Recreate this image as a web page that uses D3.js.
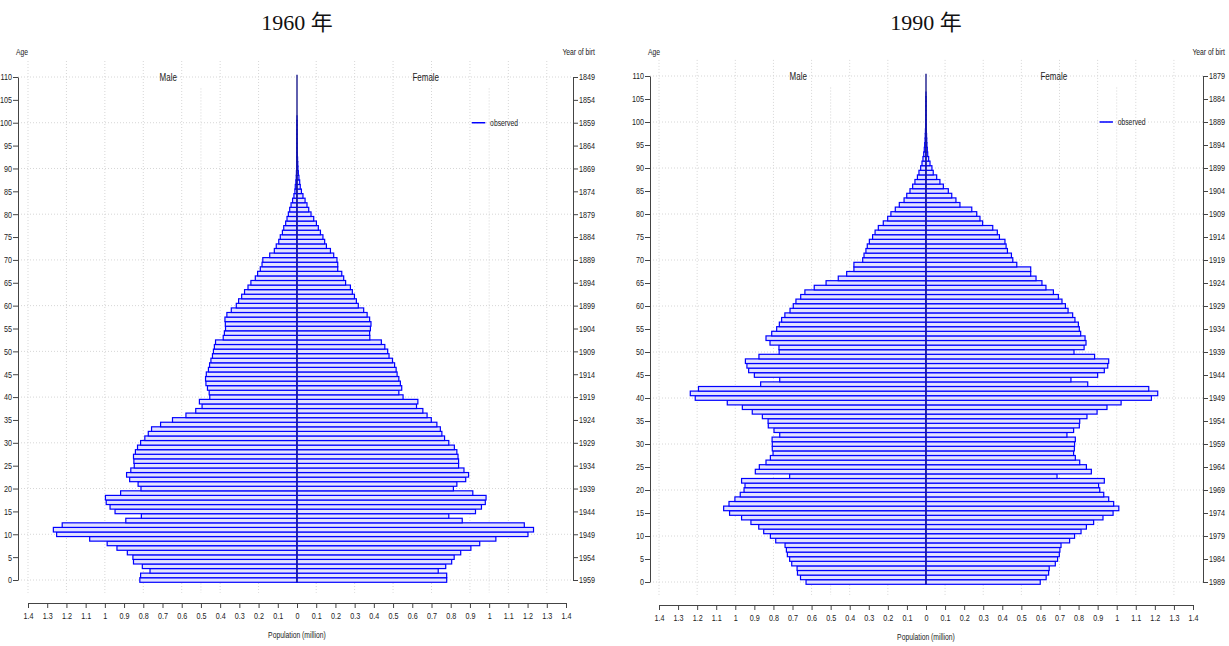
<!DOCTYPE html>
<html>
<head>
<meta charset="utf-8">
<script src="https://cdn.jsdelivr.net/npm/d3@7"></script>
<style>
  body { margin: 0; background: #fff; }
  svg { display: block; }
  .tick text, .lbl { font-family: "Liberation Sans", "Noto Sans", sans-serif; font-size: 9px; fill: #222; }
  .title { font-family: "Liberation Serif", "Noto Sans CJK SC", serif; font-size: 22px; fill: #111; }
</style>
</head>
<body>
<script>
// data, population in million by single year of age (0..110)
var ages = d3.range(0, 111);
var ageTicks = d3.range(0, 111, 5);
var popTicks = [0, 0.1, 0.2, 0.3, 0.4, 0.5, 0.6, 0.7, 0.8, 0.9, 1, 1.1, 1.2, 1.3, 1.4];

var male1960 = [
  0.818,0.814,0.765,0.805,0.851,0.854,0.883,0.937,0.988,1.079,
  1.251,1.268,1.222,0.891,0.810,0.947,0.973,0.993,0.997,0.918,
  0.812,0.827,0.871,0.887,0.865,0.847,0.849,0.851,0.841,0.830,
  0.814,0.792,0.774,0.757,0.710,0.648,0.578,0.527,0.494,0.508,
  0.454,0.457,0.466,0.474,0.476,0.472,0.461,0.455,0.448,0.440,
  0.435,0.430,0.424,0.384,0.378,0.372,0.373,0.375,0.365,0.342,
  0.316,0.304,0.288,0.273,0.255,0.240,0.217,0.205,0.191,0.182,
  0.178,0.142,0.118,0.108,0.095,0.087,0.076,0.069,0.059,0.052,
  0.045,0.038,0.031,0.023,0.016,0.011,0.009,0.006,0.004,0.003,
  0.002,0.0015,0.001,0.0008,0.0006,0.0004,0.0003,0.0002,0.0002,0.0001,
  0.0001,0,0,0,0,0,0,0,0,0,0];
var female1960 = [
  0.779,0.779,0.735,0.774,0.805,0.818,0.852,0.905,0.951,1.035,
  1.202,1.231,1.183,0.860,0.790,0.929,0.960,0.980,0.984,0.915,
  0.814,0.832,0.878,0.893,0.869,0.841,0.841,0.838,0.832,0.819,
  0.790,0.768,0.754,0.746,0.728,0.699,0.677,0.655,0.622,0.629,
  0.552,0.530,0.545,0.538,0.530,0.521,0.516,0.508,0.497,0.479,
  0.472,0.457,0.439,0.379,0.378,0.382,0.385,0.378,0.365,0.347,
  0.319,0.309,0.299,0.288,0.278,0.253,0.243,0.233,0.212,0.212,
  0.208,0.191,0.174,0.153,0.144,0.135,0.122,0.111,0.101,0.087,
  0.073,0.061,0.052,0.042,0.031,0.023,0.017,0.014,0.010,0.007,
  0.005,0.004,0.003,0.002,0.0015,0.001,0.0008,0.0006,0.0004,0.0003,
  0.0002,0.0001,0,0,0,0,0,0,0,0,0];
var male1990 = [
  0.629,0.658,0.674,0.676,0.704,0.715,0.727,0.732,0.739,0.788,
  0.816,0.851,0.877,0.918,0.967,1.030,1.061,1.033,1.002,0.974,
  0.954,0.949,0.967,0.715,0.895,0.874,0.839,0.816,0.802,0.806,
  0.806,0.807,0.767,0.797,0.827,0.828,0.858,0.911,0.963,1.042,
  1.210,1.236,1.193,0.867,0.767,0.900,0.930,0.939,0.947,0.876,
  0.770,0.771,0.818,0.839,0.809,0.783,0.769,0.757,0.740,0.713,
  0.696,0.682,0.657,0.635,0.586,0.524,0.460,0.416,0.378,0.378,
  0.332,0.325,0.315,0.308,0.297,0.280,0.267,0.250,0.224,0.201,
  0.184,0.161,0.140,0.115,0.101,0.084,0.070,0.058,0.045,0.037,
  0.028,0.021,0.016,0.012,0.009,0.007,0.005,0.004,0.003,0.002,
  0.0015,0.001,0.0007,0.0005,0.0003,0.0002,0.0001,0,0,0,0];
var female1990 = [
  0.599,0.630,0.643,0.646,0.678,0.690,0.699,0.702,0.708,0.753,
  0.779,0.813,0.841,0.879,0.928,0.981,1.011,0.984,0.958,0.932,
  0.911,0.905,0.935,0.687,0.867,0.841,0.806,0.783,0.774,0.778,
  0.779,0.783,0.739,0.774,0.804,0.806,0.844,0.897,0.949,1.023,
  1.182,1.215,1.168,0.848,0.760,0.900,0.935,0.953,0.958,0.884,
  0.776,0.829,0.839,0.834,0.811,0.804,0.799,0.781,0.769,0.745,
  0.731,0.713,0.694,0.668,0.629,0.608,0.577,0.549,0.549,0.476,
  0.455,0.448,0.427,0.420,0.414,0.385,0.374,0.350,0.297,0.283,
  0.266,0.240,0.178,0.157,0.135,0.117,0.091,0.073,0.056,0.038,
  0.031,0.021,0.014,0.009,0.007,0.005,0.004,0.003,0.002,0.0015,
  0.001,0.0007,0.0005,0.0003,0.0002,0.0001,0,0,0,0,0];

var panels = [
  {title: "1960 年", year: 1960, male: male1960, female: female1960,
   x0: 297, half: 269, left: 18, right: 573, top: 77, bottom: 580, axisY: 603},
  {title: "1990 年", year: 1990, male: male1990, female: female1990,
   x0: 926, half: 267, left: 650, right: 1203, top: 76, bottom: 582, axisY: 605}
];

var NARROW = 0.8; // squeeze texts, the original uses a condensed face

var svg = d3.select("body").append("svg")
  .attr("width", 1229)
  .attr("height", 646);

function label(g, x, y, txt, anchor, size) {
  return g.append("text").attr("class", "lbl")
    .attr("transform", "translate(" + x + "," + y + ") scale(" + NARROW + ",1)")
    .attr("text-anchor", anchor || "start")
    .style("font-size", (size || 9) + "px")
    .text(txt);
}

panels.forEach(function(p) {
  var g = svg.append("g");
  var xm = d3.scaleLinear().domain([0, 1.4]).range([p.x0, p.x0 - p.half]);
  var xf = d3.scaleLinear().domain([0, 1.4]).range([p.x0, p.x0 + p.half]);
  var y = d3.scaleLinear().domain([0, 110]).range([p.bottom, p.top]);
  var step = y(0) - y(1);

  // grid
  var grid = g.append("g").attr("stroke", "#d6d6d6").attr("stroke-dasharray", "1,2");
  [0.2, 0.4, 0.6, 0.8, 1.0, 1.2, 1.4].forEach(function(v) {
    grid.append("line").attr("x1", xm(v)).attr("x2", xm(v)).attr("y1", y(113.5)).attr("y2", y(-2.8));
  });
  [0.1, 0.3, 0.5, 0.7, 0.9, 1.1, 1.3].forEach(function(v) {
    grid.append("line").attr("x1", xf(v)).attr("x2", xf(v)).attr("y1", y(113.5)).attr("y2", y(-2.8));
  });
  // shorter ones
  grid.append("line").attr("x1", xm(0.5)).attr("x2", xm(0.5)).attr("y1", y(107.5)).attr("y2", y(-2.8));
  grid.append("line").attr("x1", xf(1.0)).attr("x2", xf(1.0)).attr("y1", y(107.5)).attr("y2", y(-2.8));
  d3.range(0, 111, 10).forEach(function(a) {
    grid.append("line").attr("x1", p.left).attr("x2", p.right).attr("y1", y(a)).attr("y2", y(a));
  });

  // bars
  var bars = g.append("g").attr("stroke", "#0000ff").attr("stroke-width", 1.2).attr("fill", "#e2e2ff");
  bars.selectAll("rect.m").data(ages).join("rect").attr("class", "m")
    .attr("x", function(a) { return xm(p.male[a]); })
    .attr("width", function(a) { return xm(0) - xm(p.male[a]); })
    .attr("y", function(a) { return y(a) - step / 2; })
    .attr("height", step);
  bars.selectAll("rect.f").data(ages).join("rect").attr("class", "f")
    .attr("x", xf(0))
    .attr("width", function(a) { return xf(p.female[a]) - xf(0); })
    .attr("y", function(a) { return y(a) - step / 2; })
    .attr("height", step);
  g.append("line").attr("x1", p.x0).attr("x2", p.x0)
    .attr("y1", y(110.5)).attr("y2", y(-0.5))
    .attr("stroke", "#1c1c8c").attr("stroke-width", 1.4);

  // axes
  var axL = g.append("g").attr("transform", "translate(" + p.left + ",0)")
    .call(d3.axisLeft(y).tickValues(ageTicks).tickSize(5).tickSizeOuter(0).tickPadding(1));
  var axR = g.append("g").attr("transform", "translate(" + p.right + ",0)")
    .call(d3.axisRight(y).tickValues(ageTicks).tickSize(5).tickSizeOuter(0).tickPadding(1)
      .tickFormat(function(a) { return (p.year - 1) - a; }));
  var axM = g.append("g").attr("transform", "translate(0," + p.axisY + ")")
    .call(d3.axisBottom(xm).tickValues(popTicks).tickSize(5).tickSizeOuter(0).tickPadding(5)
      .tickFormat(d3.format("~g")));
  var axF = g.append("g").attr("transform", "translate(0," + p.axisY + ")")
    .call(d3.axisBottom(xf).tickValues(popTicks.slice(1)).tickSize(5).tickSizeOuter(0).tickPadding(5)
      .tickFormat(d3.format("~g")));
  [axL, axR, axM, axF].forEach(function(a) {
    a.selectAll("path, line").attr("stroke", "#444");
    a.attr("font-family", null).attr("font-size", null);
    a.selectAll(".tick text").attr("transform", "scale(" + NARROW + ",1)");
  });
  // keep the side labels at their spot after squeezing
  axL.selectAll(".tick text").attr("x", -6 / NARROW);
  axR.selectAll(".tick text").attr("x", 6 / NARROW);

  // labels
  g.append("text").attr("class", "title").attr("x", p.x0).attr("y", 30)
    .attr("text-anchor", "middle").text(p.title);
  label(g, p.left + 4, 55, "Age", "middle", 8.5);
  label(g, p.right + 22, 55, "Year of birt", "end", 8.5);
  label(g, xm(0.67), y(110) + 4, "Male", "middle", 10);
  label(g, xf(0.67), y(110) + 4, "Female", "middle", 10);
  label(g, p.x0, p.axisY + 35, "Population (million)", "middle", 8.5);

  // legend
  g.append("line").attr("x1", xf(0.91)).attr("x2", xf(0.98)).attr("y1", y(100)).attr("y2", y(100))
    .attr("stroke", "#0000ff").attr("stroke-width", 1.5);
  label(g, xf(1.005), y(100) + 3, "observed", "start", 8.5);
});
</script>
</body>
</html>
